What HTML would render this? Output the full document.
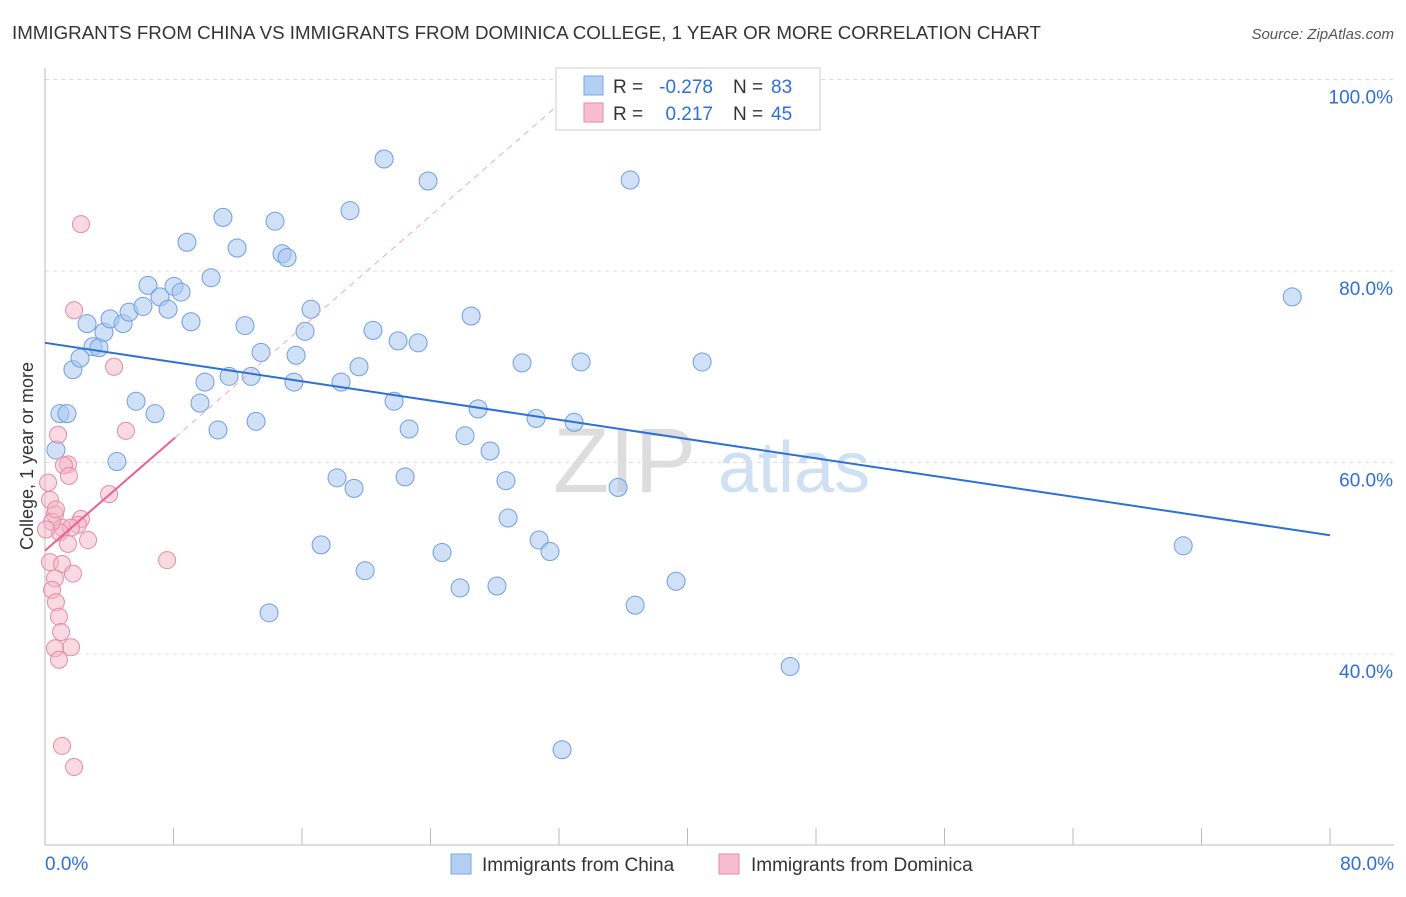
<!DOCTYPE html>
<html><head><meta charset="utf-8"><style>
body{margin:0;background:#fff;font-family:"Liberation Sans",sans-serif;}
svg text{font-family:"Liberation Sans",sans-serif;}
</style></head><body>
<svg id="chart" width="1406" height="892">
<text x="12" y="39" font-size="18" fill="#333" textLength="1029" lengthAdjust="spacingAndGlyphs">IMMIGRANTS FROM CHINA VS IMMIGRANTS FROM DOMINICA COLLEGE, 1 YEAR OR MORE CORRELATION CHART</text>
<text x="1394" y="39" font-size="15" fill="#555" font-style="italic" text-anchor="end">Source: ZipAtlas.com</text>
<text x="33" y="456" font-size="18" fill="#333" text-anchor="middle" transform="rotate(-90 33 456)">College, 1 year or more</text>
<g><text x="553" y="492" font-size="92" fill="#ddd" font-family="Liberation Serif">ZIP</text><text x="718" y="492" font-size="72" fill="#cfe0f3">atlas</text></g>
<g id="grid"></g><g id="pts"></g><g id="lines"></g>
<g>
<rect x="556" y="68" width="264" height="62" fill="#fff" stroke="#ccc"/>
<rect x="584" y="76" width="19" height="19" fill="#b3cff3" stroke="#7aa6e0"/>
<rect x="584" y="103" width="19" height="19" fill="#f6bdd0" stroke="#e889a8"/>
<g font-size="19">
<text x="613" y="93" fill="#333">R =</text><text x="713" y="93" fill="#2d6fd9" text-anchor="end">-0.278</text>
<text x="733" y="93" fill="#333">N =</text><text x="771" y="93" fill="#2d6fd9">83</text></g>
<g font-size="19">
<text x="613" y="120" fill="#333">R =</text><text x="713" y="120" fill="#2d6fd9" text-anchor="end">0.217</text>
<text x="733" y="120" fill="#333">N =</text><text x="771" y="120" fill="#2d6fd9">45</text></g>
</g>
<g>
<rect x="451" y="854" width="20" height="20" fill="#b3cff3" stroke="#7aa6e0"/>
<text x="482" y="871" font-size="19" fill="#333">Immigrants from China</text>
<rect x="719" y="854" width="20" height="20" fill="#f6bdd0" stroke="#e889a8"/>
<text x="751" y="871" font-size="19" fill="#333">Immigrants from Dominica</text>
</g>
</svg>
<script>
const yTicks=[40,60,80,100];
const yTickLabels=["40.0%","60.0%","80.0%","100.0%"];
const xTickLabels=["0.0%","80.0%"];
const chinaX=[.68,.93,1.37,1.74,2.18,2.62,2.99,3.36,3.67,4.05,4.86,5.23,5.67,6.10,6.41,6.85,7.16,7.66,8.03,8.47,8.84,9.09,9.65,9.96,10.34,10.77,11.08,11.46,11.96,12.45,12.83,13.14,13.45,14.32,14.76,15.07,15.50,15.63,16.19,16.56,17.19,13.95,18.18,18.43,18.99,19.24,19.55,19.93,20.42,21.11,21.73,21.98,22.42,22.67,23.23,23.85,24.72,25.84,26.15,26.53,26.96,27.71,28.14,28.70,28.83,29.70,30.57,30.76,31.44,32.19,32.94,33.37,35.68,36.43,36.74,39.29,40.91,46.39,70.86,77.65,4.48];
const chinaY=[61.3,65.1,65.1,69.7,70.9,74.5,72.1,72.0,73.6,75.0,74.5,75.7,66.4,76.3,78.5,65.1,77.3,76.0,78.4,77.8,83.0,74.7,66.2,68.4,79.3,63.4,85.6,69.0,82.4,74.3,69.0,64.3,71.5,85.2,81.8,81.4,68.4,71.2,73.7,76.0,51.4,44.3,58.4,68.4,86.3,57.3,70.0,48.7,73.8,91.7,66.4,72.7,58.5,63.5,72.5,89.4,50.6,46.9,62.8,75.3,65.6,61.2,47.1,58.1,54.2,70.4,64.6,51.9,50.7,30.0,64.2,70.5,57.4,89.5,45.1,47.6,70.5,38.7,51.3,77.3,60.1];
const domX=[2.24,1.81,4.30,5.04,.81,1.43,1.18,1.49,3.99,2.24,2.05,.62,1.06,1.62,.93,2.68,1.43,7.60,.31,1.06,.62,1.74,.44,.68,.87,1.00,1.62,.62,.87,1.06,1.81,34.43,.19,.31,.44,.06,.68];
const domY=[84.9,75.9,70.0,63.3,62.9,59.8,59.7,58.6,56.7,54.1,53.5,54.6,53.2,53.2,52.7,51.9,51.5,49.8,49.6,49.4,47.9,48.4,46.7,45.4,43.9,42.3,40.7,40.6,39.4,30.4,28.2,96.9,57.9,56.1,53.8,53.0,55.1];
const chinaTrend=[72.5,52.4];
const domTrend=[50.8,62.6];
const domTrendX=8.1;

const X=v=>45+v*16.0625, Y=v=>79.5+(100-v)*9.575;
const NS="http://www.w3.org/2000/svg";
function mk(t,a,p){const e=document.createElementNS(NS,t);for(const k in a)e.setAttribute(k,a[k]);p.appendChild(e);return e;}
const grid=document.getElementById('grid'),pts=document.getElementById('pts'),lines=document.getElementById('lines');
yTicks.forEach((t,i)=>{
 const l=mk('line',{x1:45,x2:1394,y1:Y(t),y2:Y(t),stroke:'#ddd','stroke-dasharray':'4,4'},grid);
 
 
 const tx=mk('text',{x:1393,y:Y(t)+24,'font-size':19,fill:'#2d6fd9','text-anchor':'end'},grid);tx.textContent=yTickLabels[i];
 
 
});
const ax=mk('line',{x1:45,x2:45,y1:68,y2:845,stroke:'#bbb'},grid);


const bx=mk('line',{x1:45,x2:1394,y1:845,y2:845,stroke:'#bbb'},grid);


for(let i=0;i<=10;i++){const t=mk('line',{x1:X(i*8),x2:X(i*8),y1:828,y2:845,stroke:'#bbb'},grid);
 
 }
[[0,'start',45],[80,'end',1394]].forEach((d,i)=>{const t=mk('text',{x:d[2],y:870,'font-size':19,fill:'#2d6fd9','text-anchor':d[1]},grid);t.textContent=xTickLabels[i];
 
 });
chinaX.forEach((x,i)=>{const c=mk('circle',{cx:X(x),cy:Y(chinaY[i]),r:9,fill:'#a9c8f0','fill-opacity':0.55,stroke:'#6f9ee0','stroke-width':1},pts);
 
 });
domX.forEach((x,i)=>{const c=mk('circle',{cx:X(x),cy:Y(domY[i]),r:8.5,fill:'#f4b6c8','fill-opacity':0.5,stroke:'#e889a8','stroke-width':1},pts);
 
 });
const bl=mk('line',{x1:X(0),y1:Y(chinaTrend[0]),x2:X(80),y2:Y(chinaTrend[1]),stroke:'#2d6fd9','stroke-width':2},lines);


const slope=(domTrend[1]-domTrend[0])/domTrendX, xe=(100-domTrend[0])/slope;
const dl=mk('line',{x1:X(domTrendX),y1:Y(domTrend[1]),x2:X(xe),y2:Y(100),stroke:'#f0a8c0','stroke-width':1,'stroke-dasharray':'6,5'},lines);


const pl=mk('line',{x1:X(0),y1:Y(domTrend[0]),x2:X(domTrendX),y2:Y(domTrend[1]),stroke:'#e8628f','stroke-width':2},lines);


</script>
</body></html>
